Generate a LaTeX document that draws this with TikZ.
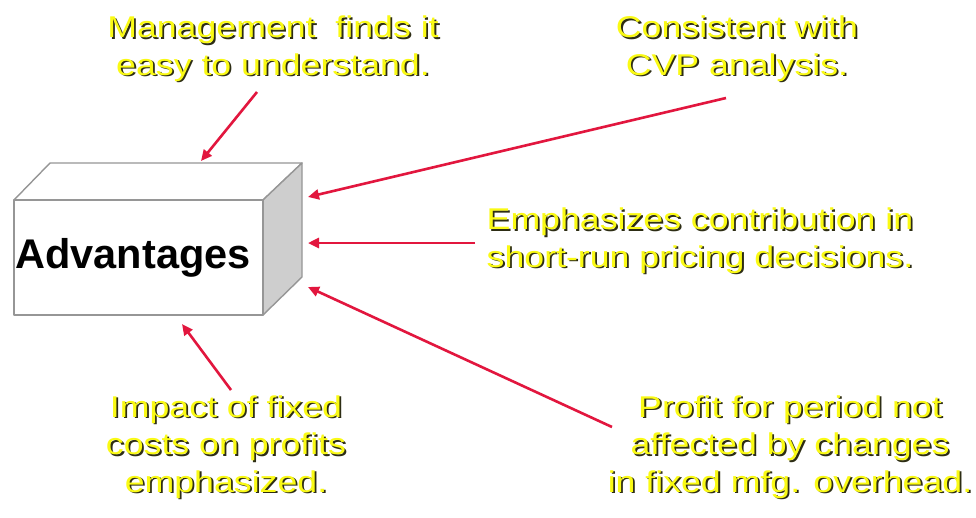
\documentclass[tikz,border=0pt]{standalone}
\usepackage{fontspec}
\setmainfont{Liberation Sans}
\newfontfamily\labelfont{Liberation Sans}[FakeStretch=1.19]
\usetikzlibrary{arrows.meta,calc}

\definecolor{arrowred}{RGB}{226,22,62}
\definecolor{boxline}{RGB}{150,150,150}
\definecolor{boxside}{RGB}{206,206,206}
\definecolor{labelyellow}{RGB}{250,250,20}
\definecolor{labelshadow}{RGB}{45,45,20}

\tikzset{
  lbl/.style={align=center, inner sep=0pt, anchor=base,
    font=\labelfont\fontsize{30}{37.5}\selectfont, text=labelyellow},
  lblshadow/.style={lbl, text=labelshadow},
  pointer/.style={draw=arrowred, line width=2.6pt,
    -{Triangle[length=11pt,width=10pt]}},
  boxedge/.style={draw=boxline, line width=1.4pt, line join=round},
}

% draws a label with its drop shadow; the position is the baseline of its last line
\newcommand{\shadowlabel}[3]{%
  \node[lblshadow] (#1s) at ($(#2)+(1.8,1.8)$) {#3};
  \node[lbl] (#1) at (#2) {#3};
}

\begin{document}
\begin{tikzpicture}[x=1pt,y=-1pt]
\useasboundingbox[fill=white] (0,0) rectangle (976,517);

% the 3-D box
\path[boxedge, fill=white] (14,200) -- (50,163) -- (302,163) -- (263,200) -- cycle;
\path[boxedge, fill=boxside] (263,200) -- (302,163) -- (302,277) -- (263,315) -- cycle;
\path[boxedge, fill=white] (14,200) rectangle (263,315);
\node[inner sep=0pt, anchor=base, font=\bfseries\fontsize{41.5}{48}\selectfont]
  (adv) at (133,268) {Advantages};

% labels
\shadowlabel{t1}{273,75}{Management\ \ finds it\\easy to understand.}
\shadowlabel{t2}{737,75}{Consistent with\\CVP analysis.}
\shadowlabel{t3}{700,267}{Emphasizes contribution in\\short-run pricing decisions.}
\shadowlabel{t4}{226,492}{Impact of fixed\\costs on profits\\emphasized.}
\shadowlabel{t5}{790,492}{Profit for period not\\affected by changes\\in fixed mfg. overhead.}

% arrow ends
\coordinate (s1) at (257,92);  \coordinate (e1) at (201,161);
\coordinate (s2) at (726,98);  \coordinate (e2) at (308,197);
\coordinate (s3) at (475,243); \coordinate (e3) at (308,243);
\coordinate (s4) at (612,427); \coordinate (e4) at (308,287);
\coordinate (s5) at (231,390); \coordinate (e5) at (182,324);

\foreach \i in {1,...,5} { \draw[pointer] (s\i) -- (e\i); }
\end{tikzpicture}
\end{document}
